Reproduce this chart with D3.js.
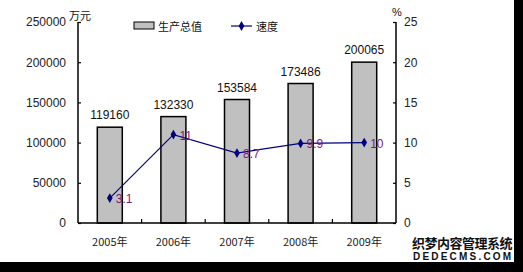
<!DOCTYPE html>
<html><head><meta charset="utf-8">
<script src="https://cdn.jsdelivr.net/npm/d3@7"></script>
<style>body{margin:0;background:#fff}svg{display:block}</style>
</head><body>
<svg id="c" width="523" height="272"></svg>
<script>
const categories = ["2005年","2006年","2007年","2008年","2009年"];
const gdpValues = [119160,132330,153584,173486,200065];
const growthValues = [3.1,11,8.7,9.9,10];
const leftTicks = [0,50000,100000,150000,200000,250000];
const rightTicks = [0,5,10,15,20,25];

const svg = d3.select("#c");
const L=78, R=396, T=22, B=223;
const numFont = "Liberation Sans, Arial, sans-serif";
const cjkFont = "Noto Sans CJK SC, sans-serif";

const x = d3.scaleBand().domain(categories).range([L,R]);
const yL = d3.scaleLinear().domain([0,250000]).range([B,T]);
const yR = d3.scaleLinear().domain([0,25]).range([B,T]);

// bars
svg.selectAll("rect.bar").data(gdpValues).join("rect")
  .attr("x",(d,i)=>x(categories[i])+x.bandwidth()/2-12.5)
  .attr("width",25)
  .attr("y",d=>yL(d)).attr("height",d=>B-yL(d))
  .attr("fill","#c0c0c0").attr("stroke","#000").attr("stroke-width",1.5);

// bar labels
svg.selectAll("text.bl").data(gdpValues).join("text")
  .attr("x",(d,i)=>x(categories[i])+x.bandwidth()/2)
  .attr("y",d=>yL(d)-8)
  .attr("text-anchor","middle").attr("font-family",numFont).attr("font-size",12)
  .attr("fill","#111").text(d=>d);

// axes
const axL = svg.append("g").attr("transform",`translate(${L},0)`)
  .call(d3.axisLeft(yL).tickValues(leftTicks).tickSize(-3).tickPadding(12).tickFormat(d=>d));
const axR = svg.append("g").attr("transform",`translate(${R},0)`)
  .call(d3.axisRight(yR).tickValues(rightTicks).tickSize(-3).tickPadding(8).tickFormat(d=>d));
[axL,axR].forEach(a=>{
  a.select(".domain").attr("stroke","#000").attr("stroke-width",1.5).attr("d",`M0,${T}V${B}`);
  a.selectAll(".tick line").attr("stroke","#000").attr("stroke-width",1.2);
  a.selectAll(".tick text").attr("font-family",numFont).attr("font-size",12).attr("fill","#222");
});
// bottom axis
const bounds = categories.map((c,i)=>x(c)).slice(1);
svg.append("line").attr("x1",L).attr("x2",R).attr("y1",B).attr("y2",B).attr("stroke","#000").attr("stroke-width",1.5);
svg.selectAll("line.bt").data(bounds).join("line")
  .attr("x1",d=>d).attr("x2",d=>d).attr("y1",B).attr("y2",B-4).attr("stroke","#000").attr("stroke-width",1.2);
svg.selectAll("text.xl").data(categories).join("text")
  .attr("x",d=>x(d)+x.bandwidth()/2).attr("y",246)
  .attr("text-anchor","middle").attr("font-family",cjkFont).attr("font-size",11)
  .attr("fill","#222").text(d=>d);

// line
const line = d3.line().x((d,i)=>x(categories[i])+x.bandwidth()/2).y(d=>yR(d));
svg.append("path").datum(growthValues).attr("d",line).attr("fill","none").attr("stroke","#000080").attr("stroke-width",1.2);
const diamond = d3.symbol().type(d3.symbolDiamond).size(28);
svg.selectAll("path.pt").data(growthValues).join("path")
  .attr("d",diamond)
  .attr("transform",(d,i)=>`translate(${x(categories[i])+x.bandwidth()/2},${yR(d)})`)
  .attr("fill","#000080");
svg.selectAll("text.ll").data(growthValues).join("text")
  .attr("x",(d,i)=>x(categories[i])+x.bandwidth()/2+6)
  .attr("y",d=>yR(d)+5)
  .attr("font-family",numFont).attr("font-size",12)
  .attr("fill","#7a1a7a").text(d=>d);

// axis titles
svg.append("text").attr("x",69).attr("y",20).attr("font-family",cjkFont).attr("font-size",11).attr("fill","#111").text("万元");
svg.append("text").attr("x",392).attr("y",16).attr("font-family",numFont).attr("font-size",11).attr("fill","#111").text("%");

// legend
svg.append("rect").attr("x",134).attr("y",22).attr("width",20).attr("height",7).attr("fill","#c0c0c0").attr("stroke","#000").attr("stroke-width",1);
svg.append("text").attr("x",158).attr("y",31).attr("font-family",cjkFont).attr("font-size",11).attr("fill","#111").text("生产总值");
svg.append("line").attr("x1",231).attr("x2",252).attr("y1",26).attr("y2",26).attr("stroke","#000080").attr("stroke-width",1.2);
svg.append("path").attr("d",diamond).attr("transform","translate(241.5,26)").attr("fill","#000080");
svg.append("text").attr("x",256).attr("y",31).attr("font-family",cjkFont).attr("font-size",11).attr("fill","#111").text("速度");

// frame edges
svg.append("rect").attr("x",514).attr("y",0).attr("width",9).attr("height",272).attr("fill","#000");
svg.append("rect").attr("x",0).attr("y",262).attr("width",523).attr("height",10).attr("fill","#000");

// watermark
const wm = svg.append("g").attr("font-family",cjkFont).attr("font-weight","bold");
wm.append("text").attr("x",412).attr("y",248).attr("font-size",13).attr("fill","#111")
  .attr("stroke","#fff").attr("stroke-width",2).attr("paint-order","stroke").attr("letter-spacing",-0.5).text("织梦内容管理系统");
wm.append("text").attr("x",413).attr("y",260).attr("font-size",10).attr("font-family",numFont).attr("fill","#111")
  .attr("stroke","#fff").attr("stroke-width",2).attr("paint-order","stroke").attr("letter-spacing",2.2).text("DEDECMS.COM");
</script>
</body></html>
